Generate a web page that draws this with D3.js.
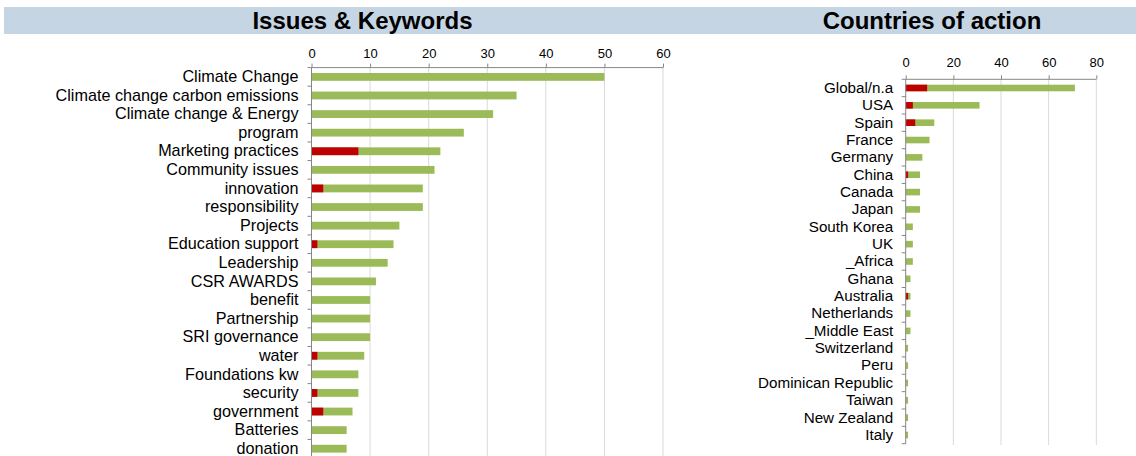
<!DOCTYPE html>
<html><head><meta charset="utf-8">
<script src="https://cdn.jsdelivr.net/npm/d3@7"></script>
<style>body{margin:0;background:#fff}svg{display:block}text{font-family:"Liberation Sans",Arial,sans-serif}</style>
</head><body>
<svg id="c" width="1136" height="456"></svg>
<script>
// ---------- data ----------
const issueCats = ["Climate Change","Climate change carbon emissions","Climate change & Energy","program","Marketing practices","Community issues","innovation","responsibility","Projects","Education support","Leadership","CSR AWARDS","benefit","Partnership","SRI governance","water","Foundations kw","security","government","Batteries","donation"];
const issueRed   = [0,0,0,0,8,0,2,0,0,1,0,0,0,0,0,1,0,1,2,0,0];
const issueTotal = [50,35,31,26,22,21,19,19,15,14,13,11,10,10,10,9,8,8,7,6,6];
const issueTicks = [0,10,20,30,40,50,60];

const countryCats = ["Global/n.a","USA","Spain","France","Germany","China","Canada","Japan","South Korea","UK","_Africa","Ghana","Australia","Netherlands","_Middle East","Switzerland","Peru","Dominican Republic","Taiwan","New Zealand","Italy"];
const countryRed   = [9,3,4,0,0,1,0,0,0,0,0,0,1,0,0,0,0,0,0,0,0];
const countryTotal = [71,31,12,10,7,6,6,6,3,3,3,2,2,2,2,1,1,1,1,1,1];
const countryTicks = [0,20,40,60,80];

const titles = ["Issues & Keywords","Countries of action"];

// ---------- drawing ----------
const svg = d3.select("#c");
const RED = "#C00000", GREEN = "#9BBB59", GRID = "#D9D9D9", AXIS = "#868686";

svg.append("rect").attr("x",4).attr("y",7).attr("width",1132).attr("height",27).attr("fill","#C6D5E3");

function panel(cfg){
  const g = svg.append("g");
  const x = d3.scaleLinear().domain([cfg.ticks[0], cfg.ticks[cfg.ticks.length-1]]).range(cfg.xr);
  const y = d3.scaleBand().domain(cfg.cats).range(cfg.yr).paddingInner(cfg.pad).paddingOuter(cfg.pad/2);
  // gridlines
  g.append("g").selectAll("line").data(cfg.ticks.slice(1)).join("line")
    .attr("x1",d=>x(d)).attr("x2",d=>x(d)).attr("y1",cfg.yr[0]).attr("y2",cfg.gridBottom)
    .attr("stroke",GRID).attr("stroke-width",1);
  // bars
  const rows = cfg.cats.map((c,i)=>({c, r:cfg.red[i], t:cfg.total[i]}));
  g.append("g").selectAll("rect").data(rows).join("rect")
    .attr("x",x(0)).attr("y",d=>y(d.c)).attr("height",y.bandwidth())
    .attr("width",d=>x(d.t)-x(0)).attr("fill",GREEN);
  g.append("g").selectAll("rect").data(rows.filter(d=>d.r>0)).join("rect")
    .attr("x",x(0)).attr("y",d=>y(d.c)).attr("height",y.bandwidth())
    .attr("width",d=>x(d.r)-x(0)).attr("fill",RED);
  // top axis
  const ax = d3.axisTop(x).tickValues(cfg.ticks).tickSize(4).tickPadding(cfg.tickPad).tickFormat(d3.format("d"));
  const axg = g.append("g").attr("transform",`translate(0,${cfg.yr[0]})`).call(ax);
  axg.select(".domain").attr("stroke",AXIS).attr("d",`M${cfg.xr[0]},0H${cfg.xr[1]}`);
  axg.selectAll(".tick line").attr("stroke",AXIS);
  axg.selectAll(".tick text").attr("fill","#000").style("font-size",cfg.tickFont+"px").style("font-family","Liberation Sans, Arial, sans-serif");
  // left axis
  const ly = d3.axisLeft(y).tickSize(0).tickPadding(cfg.labelPad);
  const lyg = g.append("g").attr("transform",`translate(${x(0)},0)`).call(ly);
  lyg.select(".domain").attr("stroke",AXIS).attr("d",`M0,${cfg.yr[0]}V${cfg.yr[1]}`);
  lyg.selectAll(".tick text").attr("fill","#000").style("font-size",cfg.labelFont+"px").style("font-family","Liberation Sans, Arial, sans-serif");
  // boundary ticks
  const bounds = cfg.cats.map(c=>y(c)-y.step()*cfg.pad/2).concat([cfg.yr[1]]);
  g.append("g").selectAll("line").data(bounds).join("line")
    .attr("x1",x(0)-4).attr("x2",x(0)).attr("y1",d=>d).attr("y2",d=>d).attr("stroke",AXIS);
  // title
  svg.append("text").attr("x",cfg.titleX).attr("y",29).attr("text-anchor","middle")
    .style("font-size","24px").style("font-weight","bold").attr("fill","#000").text(cfg.title);
}

panel({cats:issueCats, red:issueRed, total:issueTotal, ticks:issueTicks,
  xr:[311.5,663], yr:[67.6,458], gridBottom:460, pad:0.58, tickPad:6, tickFont:13,
  labelPad:13, labelFont:16.2, title:titles[0], titleX:362.5});
panel({cats:countryCats, red:countryRed, total:countryTotal, ticks:countryTicks,
  xr:[905.7,1096.3], yr:[79.3,443.7], gridBottom:445, pad:0.62, tickPad:8, tickFont:13,
  labelPad:12.5, labelFont:15.2, title:titles[1], titleX:932});
</script>
</body></html>
